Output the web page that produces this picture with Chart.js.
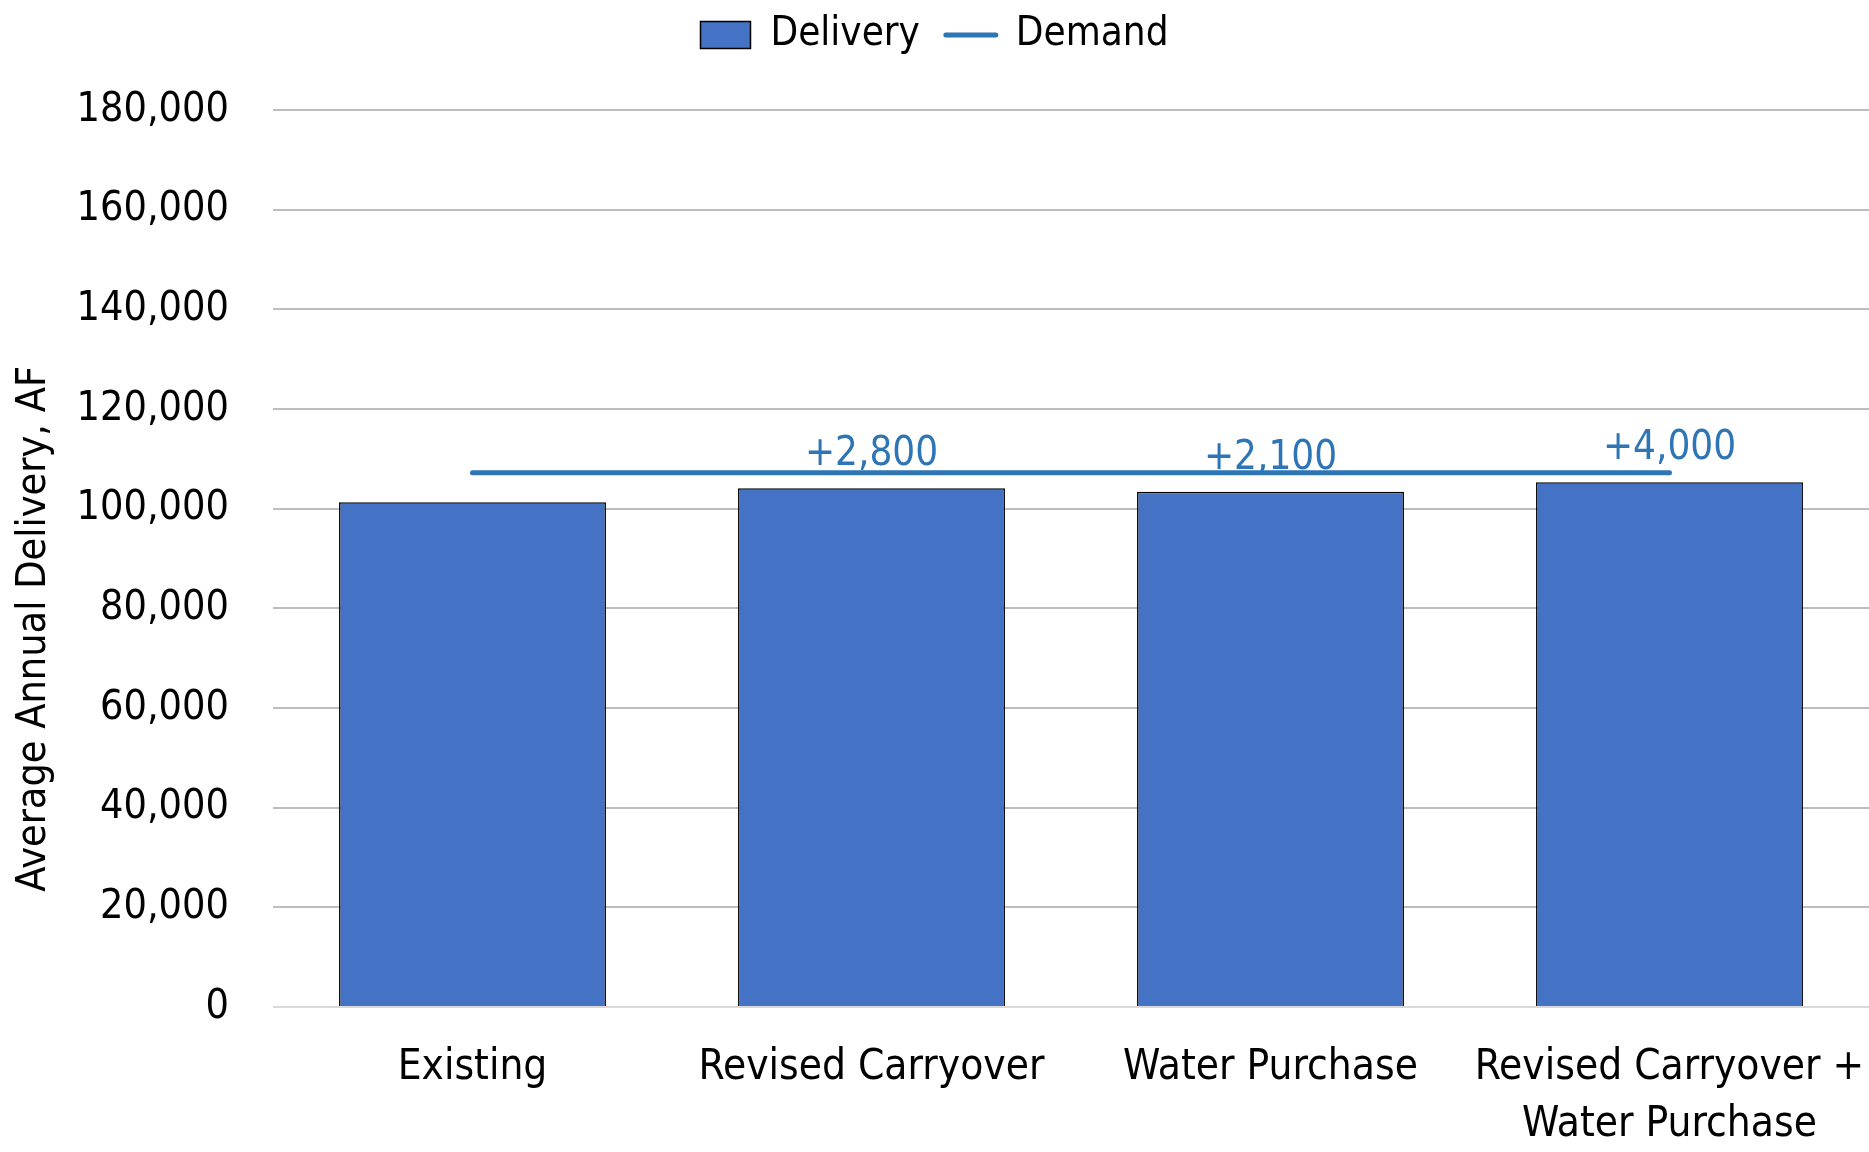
<!DOCTYPE html>
<html>
<head>
<meta charset="utf-8">
<title>Average Annual Delivery</title>
<script src="https://cdn.jsdelivr.net/npm/chart.js@4/dist/chart.umd.min.js"></script>
<style>
  html, body { margin: 0; padding: 0; background: #ffffff; overflow: hidden; }
  #wrap { width: 1869px; height: 1152px; position: relative; }
</style>
</head>
<body>
<div id="wrap"><canvas id="chart"></canvas></div>
<script>
// Scenarios and their average annual delivery (acre-feet)
const categories = ['Existing', 'Revised Carryover', 'Water Purchase', ['Revised Carryover +', 'Water Purchase']];
const delivery = [101300, 104100, 103400, 105300];
const demand = [107200, 107200, 107200, 107200];
const yTicks = [0, 20000, 40000, 60000, 80000, 100000, 120000, 140000, 160000, 180000];

const FONT = "'DejaVu Sans Condensed', 'DejaVu Sans', sans-serif";
const BAR_BLUE = '#4472C4';
const LINE_BLUE = '#2E75B6';

// Gain over the existing scenario, written above each alternative bar
const gainLabels = {
  id: 'gainLabels',
  afterDatasetsDraw(chart) {
    const ctx = chart.ctx;
    const meta = chart.getDatasetMeta(1);
    ctx.save();
    ctx.font = '40px ' + FONT;
    ctx.fillStyle = LINE_BLUE;
    ctx.textAlign = 'center';
    ctx.textBaseline = 'alphabetic';
    meta.data.forEach((bar, i) => {
      if (i === 0) return;
      const gain = delivery[i] - delivery[0];
      ctx.fillText('+' + gain.toLocaleString('en-US'), bar.x, bar.y - 23);
    });
    ctx.restore();
  }
};

// Leave extra room between the legend row and the plot area
const legendGap = {
  id: 'legendGap',
  beforeLayout(chart) {
    const legend = chart.legend;
    if (!legend || legend._gapWrapped) return;
    const fit = legend.fit.bind(legend);
    legend.fit = function () {
      fit();
      this.height += 45;
    };
    legend._gapWrapped = true;
  }
};

new Chart(document.getElementById('chart'), {
  data: {
    labels: categories,
    datasets: [
      {
        type: 'line',
        label: 'Demand',
        data: demand,
        borderColor: LINE_BLUE,
        backgroundColor: LINE_BLUE,
        borderWidth: 5,
        borderCapStyle: 'round',
        pointRadius: 0,
        pointHoverRadius: 0,
        order: 0
      },
      {
        type: 'bar',
        label: 'Delivery',
        data: delivery,
        backgroundColor: BAR_BLUE,
        borderColor: '#000000',
        borderWidth: 1.5,
        categoryPercentage: 1.0,
        barPercentage: 0.669,
        order: 1
      }
    ]
  },
  options: {
    responsive: true,
    maintainAspectRatio: false,
    animation: false,
    devicePixelRatio: 1,
    layout: { padding: { top: -11, left: 0, right: 0, bottom: 0 } },
    plugins: {
      tooltip: { enabled: false },
      legend: {
        display: true,
        position: 'top',
        labels: {
          color: '#000000',
          font: { family: FONT, size: 40 },
          usePointStyle: true,
          pointStyleWidth: 50,
          boxHeight: 27,
          padding: 26,
          generateLabels() {
            return [
              {
                text: 'Delivery',
                fillStyle: BAR_BLUE,
                strokeStyle: '#000000',
                lineWidth: 1.5,
                pointStyle: 'rect',
                datasetIndex: 1,
                fontColor: '#000000'
              },
              {
                text: 'Demand',
                fillStyle: LINE_BLUE,
                strokeStyle: LINE_BLUE,
                lineWidth: 5,
                lineCap: 'round',
                pointStyle: 'line',
                datasetIndex: 0,
                fontColor: '#000000'
              }
            ];
          }
        }
      }
    },
    scales: {
      x: {
        grid: { display: false, drawTicks: false },
        border: { display: false },
        afterFit(axis) {
          axis.height = 145;
          axis.paddingLeft = 0;
          axis.paddingRight = 0;
        },
        ticks: {
          color: '#000000',
          font: { family: FONT, size: 42, lineHeight: 1.35 },
          padding: 33,
          maxRotation: 0,
          autoSkip: false
        }
      },
      y: {
        min: 0,
        max: 180000,
        afterBuildTicks(axis) {
          axis.ticks = yTicks.map(v => ({ value: v }));
        },
        afterFit(axis) {
          axis.width = 273;
        },
        grid: {
          drawTicks: false,
          lineWidth: 2,
          color: ctx => (ctx.tick && ctx.tick.value === 0 ? '#d9d9d9' : '#bdbdbd')
        },
        border: { display: false },
        ticks: {
          color: '#000000',
          font: { family: FONT, size: 41 },
          padding: 44,
          callback: v => Number(v).toLocaleString('en-US')
        },
        title: {
          display: true,
          // trailing spaces push the centred title toward the lower part of the axis
          text: 'Average Annual Delivery, AF            ',
          color: '#000000',
          font: { family: FONT, size: 41 },
          padding: { top: 10, bottom: 0 }
        }
      }
    }
  },
  plugins: [gainLabels, legendGap]
});
</script>
</body>
</html>
